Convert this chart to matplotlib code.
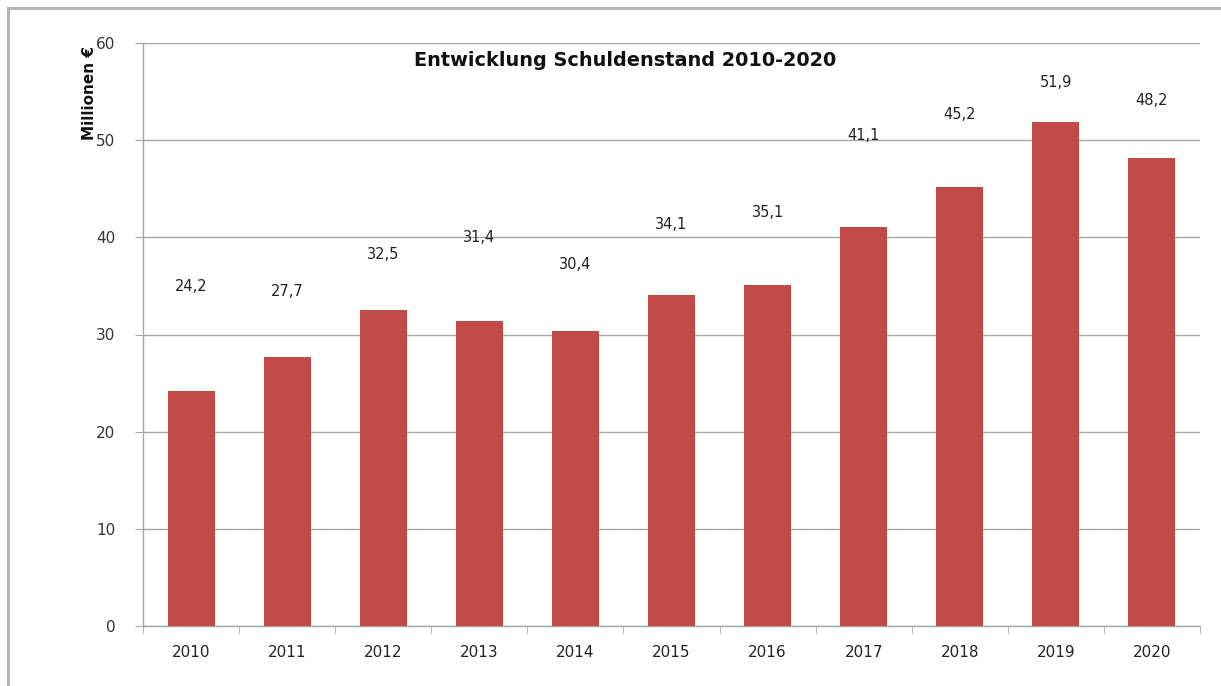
import matplotlib
matplotlib.use("Agg")
import matplotlib.pyplot as plt
from matplotlib.lines import Line2D
import numpy as np

years = ["2010", "2011", "2012", "2013", "2014", "2015", "2016", "2017", "2018", "2019", "2020"]
values = [24.2, 27.7, 32.5, 31.4, 30.4, 34.1, 35.1, 41.1, 45.2, 51.9, 48.2]
value_labels = ["24,2", "27,7", "32,5", "31,4", "30,4", "34,1", "35,1", "41,1", "45,2", "51,9", "48,2"]
# vertical offsets (pixels) of the value labels above the bar tops, as in the original
label_offsets = [104, 65, 56, 83, 66, 70, 72, 91, 72, 39, 57]

title = "Entwicklung Schuldenstand 2010-2020"
ylabel = "Millionen €"

W, H = 1221, 686
fig = plt.figure(figsize=(W / 100, H / 100), dpi=100)
ax = fig.add_axes([143 / W, (H - 626) / H, (1200 - 143) / W, (626 - 43) / H])

x = np.arange(len(years))
ax.bar(x, values, width=0.49, color="#C24B4A", zorder=3)

ax.set_xlim(-0.5, len(years) - 0.5)
ax.set_ylim(0, 60)
ax.set_yticks(range(0, 61, 10))
ax.yaxis.grid(True, color="#A6A6A6", linewidth=1.0, zorder=0)
ax.set_axisbelow(True)

ax.set_xticks(x)
ax.set_xticklabels(years)
ax.set_xticks(np.arange(-0.5, len(years), 1.0), minor=True)
ax.tick_params(axis="x", which="major", length=0, pad=14, labelsize=11, labelcolor="#222222")
ax.tick_params(axis="x", which="minor", length=5, color="#A6A6A6", direction="out")
ax.tick_params(axis="y", length=6, color="#A6A6A6", pad=14, labelsize=11, labelcolor="#333333")

for s in ["top", "right"]:
    ax.spines[s].set_visible(False)
for s in ["left", "bottom"]:
    ax.spines[s].set_color("#A6A6A6")
    ax.spines[s].set_linewidth(1.0)

for xi, v, lab, off in zip(x, values, value_labels, label_offsets):
    ax.annotate(lab, (xi, v), xytext=(0, off * 0.72), textcoords="offset points",
                ha="center", va="center", fontsize=10.5, color="#222222")

fig.text(625 / W, 1 - 60 / H, title, ha="center", va="center",
         fontsize=13.9, fontweight="bold", color="#111111")
fig.text(90 / W, 1 - 93 / H, ylabel, ha="center", va="center", rotation=90,
         fontsize=11, fontweight="bold", color="#111111")

# outer frame (top and left border of the chart area)
fig.add_artist(Line2D([8 / W, 1.0], [1 - 8 / H, 1 - 8 / H], transform=fig.transFigure,
                      color="#B5B5B5", linewidth=2.2))
fig.add_artist(Line2D([8 / W, 8 / W], [0.0, 1 - 8 / H], transform=fig.transFigure,
                      color="#B5B5B5", linewidth=2.2))

fig.savefig("out.png", dpi=100)
